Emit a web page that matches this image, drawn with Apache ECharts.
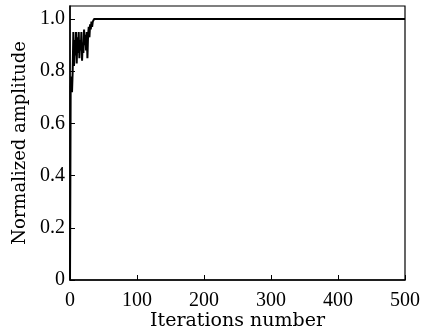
<!DOCTYPE html>
<html>
<head>
<meta charset="utf-8">
<script src="https://cdn.jsdelivr.net/npm/echarts@6/dist/echarts.min.js"></script>
<style>
  html, body { margin: 0; padding: 0; background: #fff; }
  #main { width: 422px; height: 335px; }
</style>
</head>
<body>
<div id="main"></div>
<script>
// iteration numbers and normalized amplitude
const iterations = [0, 1, 2, 3, 4, 5, 6, 7, 8, 9, 10, 11, 12, 13, 14, 15, 16, 17, 18, 19,
  20, 21, 22, 23, 24, 25, 26, 27, 28, 29, 30, 31, 32, 33, 34, 36, 500]
const amplitude = [0, 0.74, 0.78, 0.72, 0.80, 0.95, 0.82, 0.92, 0.86, 0.95, 0.83, 0.93, 0.87, 0.95, 0.85, 0.92, 0.88, 0.95, 0.84, 0.91,
  0.87, 0.96, 0.90, 0.94, 0.88, 0.95, 0.85, 0.94, 0.97, 0.93, 0.98, 0.96, 0.99, 0.97, 0.99, 1.0, 1.0]

const xTicks = [0, 100, 200, 300, 400, 500]
const yTicks = [0, 0.2, 0.4, 0.6, 0.8, 1.0]

const numFont = 'Liberation Serif'
const nameFont = 'DejaVu Serif'

const chart = echarts.init(document.getElementById('main'), null, { renderer: 'canvas' })

const points = iterations.map((x, i) => [x, amplitude[i]])

const option = {
  animation: false,
  grid: {
    left: 70,
    right: 17,
    top: 6,
    bottom: 55,
    outerBoundsMode: 'none',
    show: true,
    borderColor: '#000',
    borderWidth: 1.2
  },
  xAxis: {
    type: 'value',
    min: xTicks[0],
    max: xTicks[xTicks.length - 1],
    interval: 100,
    name: 'Iterations number',
    nameLocation: 'middle',
    nameGap: 32,
    nameMoveOverlap: false,
    nameTextStyle: { fontFamily: nameFont, fontSize: 19, color: '#000' },
    axisLine: { lineStyle: { color: '#000', width: 1.5 } },
    axisTick: { inside: true, length: 5, lineStyle: { color: '#000' } },
    axisLabel: { fontFamily: numFont, fontSize: 20, color: '#000', margin: 11 },
    splitLine: { show: false }
  },
  yAxis: {
    type: 'value',
    min: yTicks[0],
    max: 1.05,
    interval: 0.2,
    name: 'Normalized amplitude',
    nameLocation: 'middle',
    nameGap: 41,
    nameMoveOverlap: false,
    nameTextStyle: { fontFamily: nameFont, fontSize: 18, color: '#000' },
    axisLine: { lineStyle: { color: '#000', width: 1.5 } },
    axisTick: { inside: true, length: 5, lineStyle: { color: '#000' } },
    axisLabel: {
      fontFamily: numFont, fontSize: 20, color: '#000', margin: 5,
      showMaxLabel: false,
      formatter: v => v === 0 ? '0' : v.toFixed(1)
    },
    splitLine: { show: false }
  },
  series: [{
    type: 'line',
    data: points,
    symbol: 'none',
    lineStyle: { color: '#000', width: 2 }
  }]
}

chart.setOption(option)
</script>
</body>
</html>
